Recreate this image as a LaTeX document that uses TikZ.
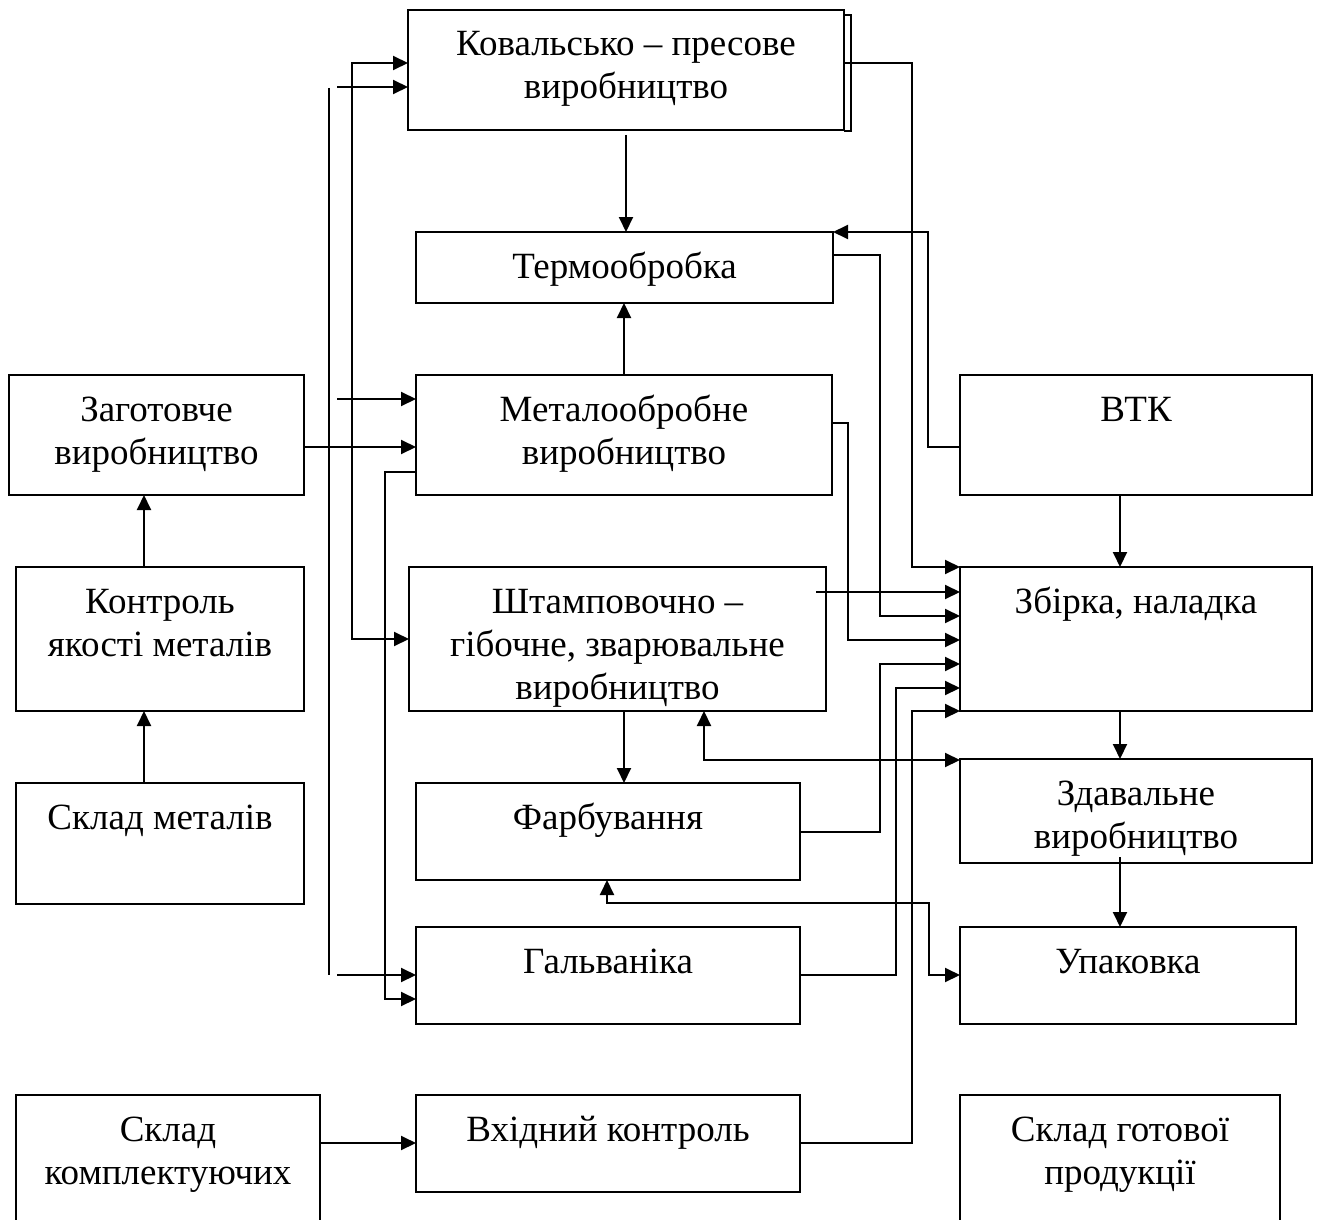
\documentclass[tikz,border=0pt]{standalone}
\usepackage{fontspec}
\setmainfont{Liberation Serif}
\usetikzlibrary{arrows.meta}
\newcommand\bxtext[3]{\parbox[c][#2][t]{#1}{\centering\rule{0pt}{46pt}#3}}
\begin{document}
\begin{tikzpicture}[x=1pt,y=-1pt,
  box/.style={draw, line width=2.1pt, inner sep=0pt, outer sep=0pt, font=\fontsize{37}{43}\selectfont},
  con/.style={line width=2pt},
  arr/.style={con, -{Triangle[length=15pt,width=14pt]}},
  darr/.style={con, {Triangle[length=15pt,width=14pt]}-{Triangle[length=15pt,width=14pt]}}]
\useasboundingbox (0,0) rectangle (1323,1220);
\clip (0,0) rectangle (1323,1220);
% boxes
\node[box] (kov) at (626,70) {\bxtext{436pt}{120pt}{Ковальсько – пресове\\виробництво}};
\node[box] (term) at (624.5,267.5) {\bxtext{417pt}{71pt}{Термообробка}};
\node[box] (zag) at (156.5,435) {\bxtext{295pt}{120pt}{Заготовче\\виробництво}};
\node[box] (met) at (624,435) {\bxtext{416pt}{120pt}{Металообробне\\виробництво}};
\node[box] (vtk) at (1136,435) {\bxtext{352pt}{120pt}{ВТК}};
\node[box] (kontr) at (160,639) {\bxtext{288pt}{144pt}{Контроль\\якості металів}};
\node[box] (shtamp) at (617.5,639) {\bxtext{417pt}{144pt}{Штамповочно –\\гібочне, зварювальне\\виробництво}};
\node[box] (zbirka) at (1136,639) {\bxtext{352pt}{144pt}{Збірка, наладка}};
\node[box] (sklm) at (160,843.5) {\bxtext{288pt}{121pt}{Склад металів}};
\node[box] (farb) at (608,831.5) {\bxtext{384pt}{97pt}{Фарбування}};
\node[box] (zdav) at (1136,811) {\bxtext{352pt}{104pt}{Здавальне\\виробництво}};
\node[box] (galv) at (608,975.5) {\bxtext{384pt}{97pt}{Гальваніка}};
\node[box] (upak) at (1128,975.5) {\bxtext{336pt}{97pt}{Упаковка}};
\node[box] (sklk) at (168,1167.5) {\bxtext{304pt}{145pt}{Склад\\комплектуючих}};
\node[box] (vkh) at (608,1143.5) {\bxtext{384pt}{97pt}{Вхідний контроль}};
\node[box] (sklg) at (1120,1167.5) {\bxtext{320pt}{145pt}{Склад готової\\продукції}};
% shadow of the top box
\draw[line width=1.6pt] ([yshift=-5pt]kov.north east) -- ++(7,0) -- ([xshift=7pt,yshift=-1pt]kov.south east) -- ([yshift=-1pt]kov.south east);
% free coordinates
\coordinate (l1t) at (329,88);
\coordinate (l1b) at (329,975);
\coordinate (a1) at (337,87);
\coordinate (a2) at (337,399);
\coordinate (a3) at (337,975);
\coordinate (s1) at (816,592);
\coordinate (kovs) at (626,135);
\coordinate (zdavs) at (1120,857);
% left connectors
\draw[con] (l1t) -- (l1b);
\draw[arr] (a1) -- (kov.west |- a1);
\draw[arr] (a2) -- (met.west |- a2);
\draw[arr] (a3) -- (galv.west |- a3);
\draw[darr] (kov.west |- 0,63) -- (352,63) -- (352,639) -- (shtamp.west |- 0,639);
\draw[arr] (zag.east |- 0,447) -- (met.west |- 0,447);
\draw[arr] (met.west |- 0,472) -- (385,472) -- (385,999) -- (galv.west |- 0,999);
\draw[arr] (kontr.north -| 144,0) -- (zag.south -| 144,0);
\draw[arr] (sklm.north -| 144,0) -- (kontr.south -| 144,0);
\draw[arr] (sklk.east |- 0,1143) -- (vkh.west |- 0,1143);
% middle column
\draw[arr] (kovs) -- (term.north -| kovs);
\draw[arr] (met.north -| 624,0) -- (term.south -| 624,0);
\draw[arr] (shtamp.south -| 624,0) -- (farb.north -| 624,0);
\draw[darr] (shtamp.south -| 704,0) -- (704,760) -- (zdav.west |- 0,760);
\draw[darr] (farb.south -| 607,0) -- (607,903) -- (929,903) -- (929,975) -- (upak.west |- 0,975);
% right connectors
\draw[arr] (vtk.west |- 0,447) -- (928,447) -- (928,232) -- (term.east |- 0,232);
\draw[arr] (kov.east |- 0,63) -- (912,63) -- (912,567) -- (zbirka.west |- 0,567);
\draw[arr] (s1) -- (zbirka.west |- s1);
\draw[arr] (term.east |- 0,255) -- (880,255) -- (880,616) -- (zbirka.west |- 0,616);
\draw[arr] (met.east |- 0,423) -- (848,423) -- (848,640) -- (zbirka.west |- 0,640);
\draw[arr] (farb.east |- 0,832) -- (880,832) -- (880,664) -- (zbirka.west |- 0,664);
\draw[arr] (galv.east |- 0,975) -- (896,975) -- (896,688) -- (zbirka.west |- 0,688);
\draw[arr] (vkh.east |- 0,1143) -- (912,1143) -- (912,711) -- (zbirka.west |- 0,711);
\draw[arr] (vtk.south -| 1120,0) -- (zbirka.north -| 1120,0);
\draw[arr] (zbirka.south -| 1120,0) -- (zdav.north -| 1120,0);
\draw[arr] (zdavs) -- (upak.north -| zdavs);
\end{tikzpicture}
\end{document}
